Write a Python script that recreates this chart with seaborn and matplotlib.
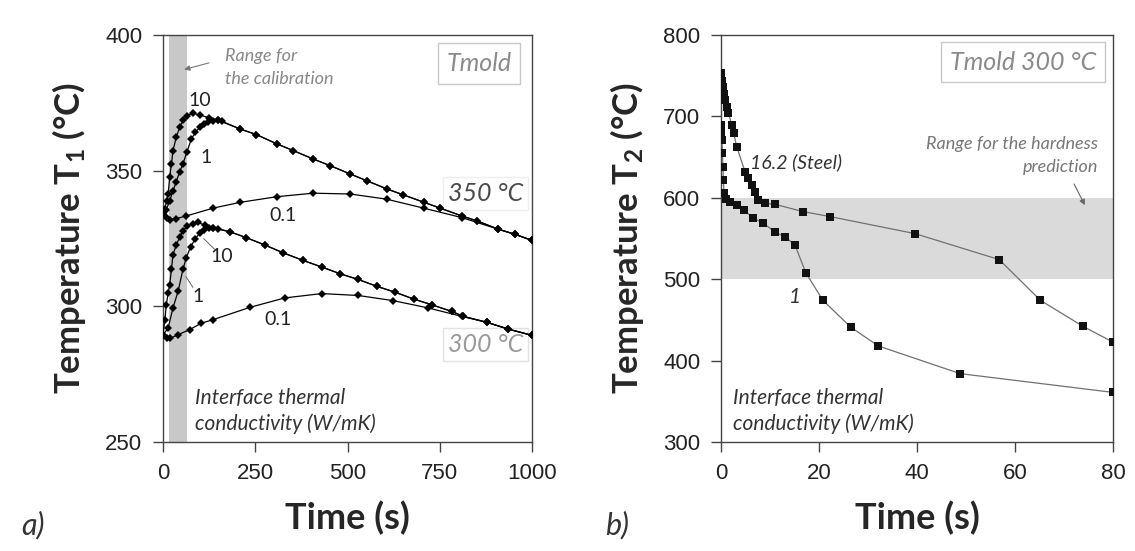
import matplotlib
matplotlib.use("Agg")
import matplotlib.pyplot as plt
import pandas as pd
import seaborn as sns

# ---- panel a) : T1 vs time, two mold temperatures, three interface conductivities
tail350_t = [208, 253, 308, 353, 407, 452, 507, 552, 608, 651, 708, 751, 810, 851, 909, 955, 1000]
tail350_T = [365.4, 363.3, 359.9, 357.4, 354.3, 351.9, 348.8, 346.3, 343.2, 341.1, 338.3, 336.2,
             333.3, 331.5, 328.4, 326.5, 324.3]

k10_350_t = [0, 5, 10, 14, 18, 23, 27, 36, 45, 54, 65, 81, 100, 125, 149] + tail350_t
k10_350_T = [334, 336, 339, 341.4, 347.5, 352.5, 357.4, 362.3, 366, 368.5, 370.3, 371.2, 370.5,
             369.5, 368.6] + tail350_T

k1_350_t = [0, 9, 18, 27, 36, 45, 54, 65, 77, 88, 100, 111, 122, 135, 149, 160] + tail350_t
k1_350_T = [334, 335.5, 338.9, 342.5, 346, 349.5, 352.5, 357, 361.7, 364.2, 366, 367.2, 367.9,
            368.3, 368.5, 368.2] + tail350_T

k01_350_t = [0, 10, 20, 35, 63, 136, 208, 308, 407, 507, 606, 706, 810, 909, 955, 1000]
k01_350_T = [334, 332.5, 332, 332.3, 333.3, 336.2, 338.3, 340.4, 341.7, 341.4, 339.5, 336.2,
             332.7, 328.4, 326.5, 324.3]

tail300_t = [181, 226, 276, 326, 380, 430, 480, 529, 579, 629, 679, 730, 783, 814, 878, 936, 1000]
tail300_T = [327.5, 325.3, 322.6, 319.7, 316.9, 314.5, 312.0, 309.9, 307.4, 305.2, 302.7, 300.5,
             298.1, 296.3, 294.1, 291.6, 289.3]

k10_300_t = [0, 5, 9, 14, 18, 23, 27, 36, 45, 54, 65, 80, 95, 115, 136] + tail300_t
k10_300_T = [289.5, 295, 300.6, 305, 308, 313.6, 319.1, 322.5, 325.5, 327.8, 329.5, 330.5, 330.9,
             329.8, 328.9] + tail300_T

k1_300_t = [0, 14, 27, 41, 54, 63, 75, 88, 100, 112, 124, 136, 150] + tail300_t
k1_300_T = [289.5, 292, 299.4, 305.6, 313.6, 317.9, 322, 325, 327, 328.2, 328.7, 328.8,
            328.5] + tail300_T

k01_300_t = [0, 10, 20, 40, 72, 104, 136, 235, 330, 430, 529, 624, 719, 810, 878, 936, 1000]
k01_300_T = [289.5, 288.5, 288.2, 289.5, 291.4, 293.8, 295.1, 299.6, 303.1, 304.7, 304.0, 302.1,
             299.4, 296.3, 294.1, 291.6, 289.3]

# ---- panel b) : T2 vs time, mold 300 °C
steel_t = [0, 0.1, 0.2, 0.3, 0.5, 0.7, 0.9, 1.2, 1.5, 2.2, 2.6, 3.2, 4.9, 5.6, 6.3, 6.9, 7.6, 9.0,
           11.0, 16.8, 22.2, 39.6, 56.8, 65.2, 73.9, 79.9]
steel_T = [753, 748, 744, 740, 736, 728, 720, 712, 704, 690, 679, 663, 632, 624, 616, 607, 597, 593,
           592, 583, 577, 556, 524, 474, 442, 423]

k1_b_t = [0, 0.1, 0.2, 0.3, 0.4, 0.5, 0.6, 1.0, 1.8, 3.2, 4.6, 6.6, 8.6, 11.0, 13.1, 15.1, 17.3,
          20.8, 26.5, 32.1, 48.8, 79.9]
k1_b_T = [690, 679, 671, 655, 638, 622, 606, 599, 595, 591, 585, 575, 569, 558, 552, 542, 508,
          474, 441, 418, 384, 361]

sns.set_style("ticks")
plt.rcParams["font.family"] = ["Lato", "DejaVu Sans"]
plt.rcParams["mathtext.fontset"] = "custom"
plt.rcParams["mathtext.rm"] = "Lato:bold"
plt.rcParams["mathtext.default"] = "rm"

fig = plt.figure(figsize=(11.35, 5.51), dpi=100)
ax1 = fig.add_axes([163 / 1135, 109 / 551, 369 / 1135, 407 / 551])
ax2 = fig.add_axes([721 / 1135, 109 / 551, 392 / 1135, 407 / 551])

# calibration band
ax1.axvspan(15, 65, color="#c8c8c8", lw=0, zorder=0)

curves_a = [(k10_350_t, k10_350_T), (k1_350_t, k1_350_T), (k01_350_t, k01_350_T),
            (k10_300_t, k10_300_T), (k1_300_t, k1_300_T), (k01_300_t, k01_300_T)]
for t, T in curves_a:
    df = pd.DataFrame({"t": t, "T": T})
    sns.lineplot(data=df, x="t", y="T", ax=ax1, sort=False, estimator=None,
                 color="black", lw=0.9, marker="D", markersize=3.6, markeredgewidth=0,
                 zorder=3)

ax2.axhspan(500, 600, color="#dadada", lw=0, zorder=0)
for t, T in [(steel_t, steel_T), (k1_b_t, k1_b_T)]:
    df = pd.DataFrame({"t": t, "T": T})
    sns.lineplot(data=df, x="t", y="T", ax=ax2, sort=False, estimator=None,
                 color="#707070", lw=0.9, marker="s", markersize=6,
                 markerfacecolor="#111111", markeredgewidth=0, zorder=3)

ax1.set_xlim(0, 1000)
ax1.set_ylim(250, 400)
ax1.set_xticks([0, 250, 500, 750, 1000])
ax1.set_yticks([250, 300, 350, 400])
ax2.set_xlim(0, 80)
ax2.set_ylim(300, 800)
ax2.set_xticks([0, 20, 40, 60, 80])
ax2.set_yticks([300, 400, 500, 600, 700, 800])

for ax, lab in [(ax1, "Temperature T$_1$ (\u00b0C)"), (ax2, "Temperature T$_2$ (\u00b0C)")]:
    for s in ax.spines.values():
        s.set_color("#444444")
        s.set_linewidth(1.0)
    ax.tick_params(direction="out", length=7, width=1, color="#444444", labelsize=16,
                   labelcolor="#222222", pad=8)
    for tl in ax.get_xticklabels() + ax.get_yticklabels():
        tl.set_family("Liberation Sans")
    ax.set_xlabel("Time (s)", fontsize=26, fontweight="bold", labelpad=12)
    ax.set_ylabel(lab, fontsize=25, fontweight="bold", labelpad=12)

# panel a annotations
ann = dict(style="italic")
ax1.text(168, 388, "Range for\nthe calibration", fontsize=13, color="#888888",
         va="center", ha="left", linespacing=1.5, **ann)
ax1.annotate("", xy=(50, 387), xytext=(132, 390),
             arrowprops=dict(arrowstyle="-|>", color="#777777", lw=0.8, mutation_scale=8))
ax1.text(856, 389.5, "Tmold", fontsize=18, color="#8a8a8a", ha="center", va="center",
         bbox=dict(boxstyle="square,pad=0.35", fc="white", ec="#c8c8c8", lw=1), **ann)
ax1.text(873, 341.5, "350 \u00b0C", fontsize=18, color="#4a4a4a", ha="center", va="center",
         zorder=1.5, bbox=dict(boxstyle="square,pad=0.2", fc="white", ec="#eeeeee", lw=1), **ann)
ax1.text(873, 285.8, "300 \u00b0C", fontsize=18, color="#9a9a9a", ha="center", va="center",
         zorder=1.5, bbox=dict(boxstyle="square,pad=0.2", fc="white", ec="#e2e2e2", lw=1), **ann)
ax1.text(100, 376, "10", fontsize=14, color="#222222", ha="center", va="center")
ax1.text(118, 355, "1", fontsize=14, color="#222222", ha="center", va="center")
ax1.text(325, 333.6, "0.1", fontsize=14, color="#222222", ha="center", va="center")
ax1.text(159, 318.3, "10", fontsize=14, color="#222222", ha="center", va="center")
ax1.plot([140, 110], [321, 325], color="#666666", lw=0.7)
ax1.text(96, 303.5, "1", fontsize=14, color="#222222", ha="center", va="center")
ax1.plot([81, 62], [307, 311], color="#666666", lw=0.7)
ax1.text(312, 295, "0.1", fontsize=14, color="#222222", ha="center", va="center")
ax1.text(87, 261.4, "Interface thermal\nconductivity (W/mK)", fontsize=15, color="#333333",
         ha="left", va="center", linespacing=1.35, **ann)

# panel b annotations
ax2.text(61.7, 766.6, "Tmold 300 \u00b0C", fontsize=18, color="#8a8a8a", ha="center",
         va="center", bbox=dict(boxstyle="square,pad=0.35", fc="white", ec="#c8c8c8", lw=1),
         **ann)
ax2.text(76.9, 652, "Range for the hardness\nprediction", fontsize=13, color="#777777",
         ha="right", va="center", multialignment="right", linespacing=1.6, **ann)
ax2.annotate("", xy=(74.5, 588), xytext=(71.8, 620),
             arrowprops=dict(arrowstyle="-|>", color="#666666", lw=0.8, mutation_scale=8))
ax2.text(5.9, 643.4, "16.2 (Steel)", fontsize=14, color="#333333", ha="left", va="center", **ann)
ax2.text(15.1, 478.5, "1", fontsize=15, color="#333333", ha="center", va="center", **ann)
ax2.text(2.45, 338, "Interface thermal\nconductivity (W/mK)", fontsize=15, color="#333333",
         ha="left", va="center", linespacing=1.35, **ann)

fig.text(33 / 1135, 1 - 525 / 551, "a)", fontsize=22, style="italic", color="#333333",
         ha="center", va="center")
fig.text(617 / 1135, 1 - 525 / 551, "b)", fontsize=22, style="italic", color="#333333",
         ha="center", va="center")

fig.savefig("out.png", dpi=100, facecolor="white")
